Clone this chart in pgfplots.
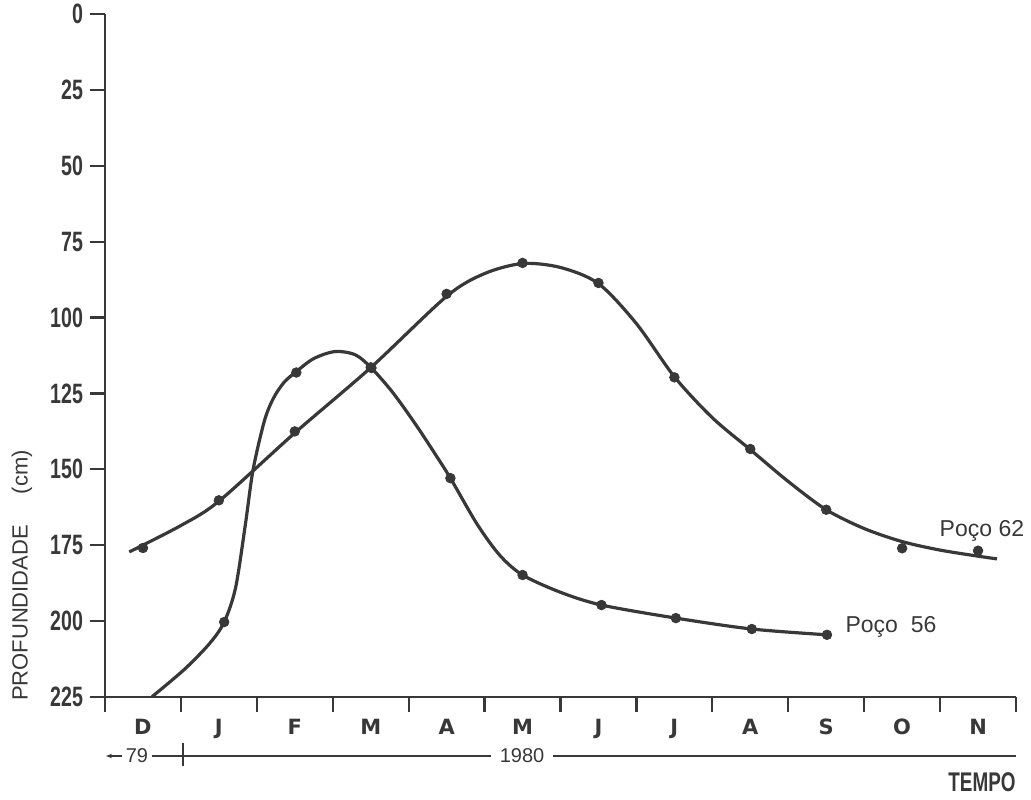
\documentclass[border=0pt]{standalone}
\usepackage{fontspec}
\setmainfont{Liberation Sans}
\newfontfamily\condf{Liberation Sans}[FakeStretch=0.7]
\newfontfamily\monthf{DejaVu Sans}
\usepackage{pgfplots}
\pgfplotsset{compat=1.18}
\usetikzlibrary{arrows.meta}
\definecolor{ink}{HTML}{383838}

\begin{document}
\begin{tikzpicture}[x=1pt,y=1pt]
% page = 1031x799 px, 1 px = 0.5pt, origin at the axis corner (105,697)
\useasboundingbox (-52.5,-51) rectangle (463,348.5);
\begin{axis}[
    scale only axis,
    width=455.5pt, height=341.5pt,
    xmin=0, xmax=12, ymin=0, ymax=225,
    y dir=reverse,
    axis x line*=bottom, axis y line*=left,
    axis line style={ink, line width=1.1pt},
    x axis line style={shorten <=-7.5pt},
    xtick={0,...,12},
    xticklabels={D,J,F,M,A,M,J,J,A,S,O,N},
    x tick label as interval,
    ytick={0,25,...,225},
    tick align=outside,
    major tick length=7.5pt,
    tick style={ink, line width=1.1pt},
    /pgf/number format/assume math mode=true,
    yticklabel style={font=\condf\bfseries\fontsize{14}{14}\selectfont, text=ink},
    xticklabel style={font=\monthf\bfseries\fontsize{10.5}{12}\selectfont, text=ink},
    clip=false,
]
% Poco 56 -- traced curve
\addplot[ink, line width=1.6pt, smooth, no markers] coordinates {
  (0.62,224.9) (1.05,215.8) (1.38,207.3) (1.57,200.3) (1.72,189.0)
  (1.85,168.0) (1.95,150.2) (2.10,134.0) (2.22,126.5) (2.36,121.3)
  (2.52,117.8) (2.75,113.5) (3.03,111.2) (3.30,112.3) (3.52,116.9)
  (3.80,125.0) (4.10,135.5) (4.35,145.0) (4.55,152.9) (4.90,168.0)
  (5.20,178.3) (5.50,184.8) (6.00,190.5) (6.54,194.7) (7.52,199.0)
  (8.52,202.6) (9.51,204.5)};
% Poco 62 -- traced curve
\addplot[ink, line width=1.6pt, smooth, no markers] coordinates {
  (0.32,177.2) (1.00,168.5) (1.50,160.5) (2.50,138.0) (3.50,116.5)
  (4.50,93.0) (5.00,85.5) (5.50,82.2) (6.00,83.5) (6.50,88.8)
  (7.00,102.0) (7.50,119.5) (8.00,133.0) (8.50,143.5) (9.00,154.0)
  (9.50,163.3) (10.00,169.5) (10.50,173.8) (11.00,176.6) (11.50,178.6)
  (11.75,179.5)};
% measured points
\addplot[only marks, mark=*, mark size=2.4pt, ink] coordinates {
  (1.57,200.3) (2.52,118.1) (3.51,116.6) (4.55,152.9) (5.50,184.8)
  (6.54,194.7) (7.52,199.0) (8.52,202.6) (9.51,204.5)};
\addplot[only marks, mark=*, mark size=2.4pt, ink] coordinates {
  (0.5,175.9) (1.5,160.2) (2.5,137.5) (3.5,116.4) (4.5,92.2) (5.5,82.0)
  (6.5,88.6) (7.5,119.7) (8.5,143.3) (9.5,163.3) (10.5,176.0) (11.5,176.8)};
\node[anchor=west, text=ink, font=\fontsize{11.5}{13}\selectfont, inner sep=0pt]
  at (axis cs:10.99,170.3) {Poço 62};
\node[anchor=west, text=ink, font=\fontsize{11.5}{13}\selectfont, inner sep=0pt]
  at (axis cs:9.75,201.9) {Poço\ \ 56};
\end{axis}
% y label
\node[rotate=90, text=ink, font=\fontsize{11}{12}\selectfont, inner sep=0pt]
  at (-41.5,60.75) {PROFUNDIDADE\hspace{1.4em}(cm)};
% year band below the months
\draw[ink, line width=0.7pt, -{Stealth[length=3pt]}] (8.5,-29.5) -- (0.5,-29.5);
\node[text=ink, font=\fontsize{10}{11}\selectfont, inner sep=0pt] at (16,-29.5) {79};
\draw[ink, line width=0.7pt] (23.5,-29.5) -- (193,-29.5);
\draw[ink, line width=0.9pt] (39,-23) -- (39,-34.5);
\node[text=ink, font=\fontsize{10}{11}\selectfont, inner sep=0pt] at (208.5,-29.5) {1980};
\draw[ink, line width=0.7pt] (224,-29.5) -- (455.5,-29.5);
\node[anchor=east, text=ink, font=\condf\bfseries\fontsize{13.5}{14}\selectfont, inner sep=0pt]
  at (455.5,-42.5) {TEMPO};
\end{tikzpicture}
\end{document}
